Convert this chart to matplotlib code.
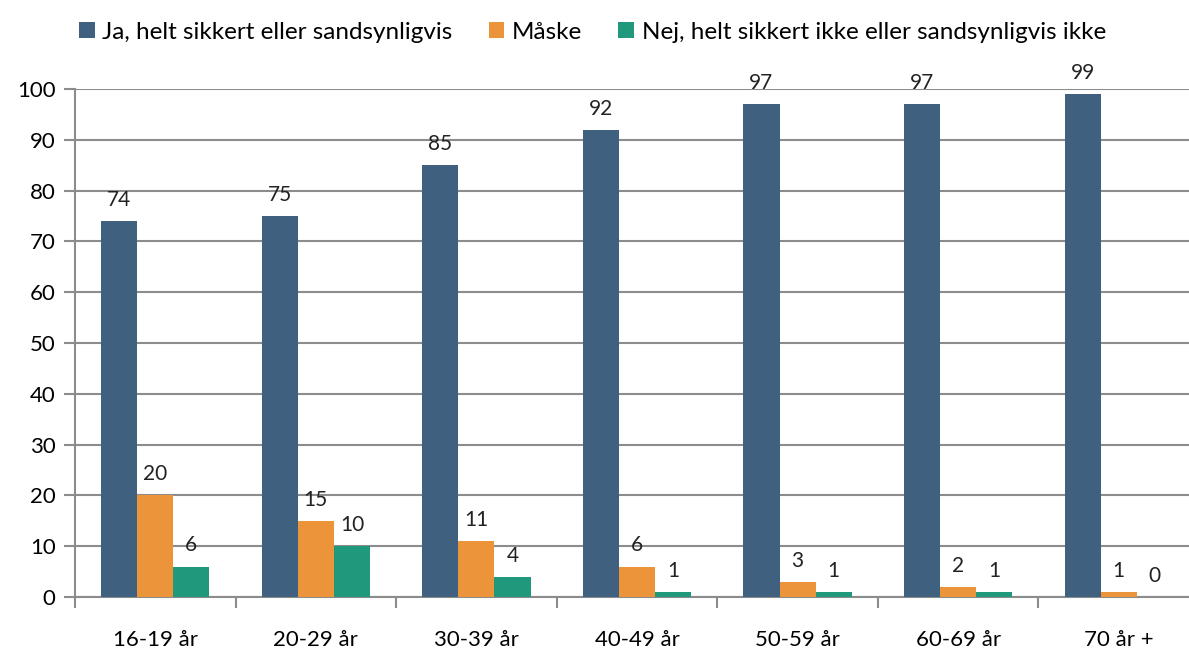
import numpy as np
import matplotlib.pyplot as plt
from matplotlib.ticker import FixedLocator

plt.rcParams['font.family'] = ['Lato', 'DejaVu Sans']

# Aldersgrupper og svarandele (%)
groups = ["16-19 år", "20-29 år", "30-39 år", "40-49 år", "50-59 år", "60-69 år", "70 år +"]
ja = [74, 75, 85, 92, 97, 97, 99]
maaske = [20, 15, 11, 6, 3, 2, 1]
nej = [6, 10, 4, 1, 1, 1, 0]

series = [
    ("Ja, helt sikkert eller sandsynligvis", ja, "#3F617F"),
    ("Måske", maaske, "#EB943A"),
    ("Nej, helt sikkert ikke eller sandsynligvis ikke", nej, "#1F987B"),
]

fig = plt.figure(figsize=(11.89, 6.49), dpi=100)
ax = fig.add_axes([75 / 1189, 52 / 649, 1124 / 1189, 508 / 649])

x = np.arange(len(groups))
w = 0.225
gray = "#8C8C8C"

for i, (name, vals, col) in enumerate(series):
    pos = x + (i - 1) * w
    bars = ax.bar(pos, vals, width=w, color=col, label=name, zorder=3)
    for b, v in zip(bars, vals):
        ax.annotate(str(v), (b.get_x() + b.get_width() / 2, b.get_height()),
                    xytext=(0, 8), textcoords="offset points",
                    ha="center", va="bottom", fontsize=15, color="#222222")

ax.set_xlim(-0.5, len(groups) - 0.5)
ax.set_ylim(0, 100)
ax.set_yticks(range(0, 101, 10))
ax.yaxis.grid(True, color=gray, linewidth=1.5, zorder=0)
ax.set_xticks(x)
ax.set_xticklabels(groups, fontsize=16)
ax.xaxis.set_minor_locator(FixedLocator(np.arange(-0.5, len(groups), 1)))
ax.tick_params(axis="x", which="major", length=0, pad=24)
ax.tick_params(axis="x", which="minor", length=8, width=1.5, color=gray)
ax.tick_params(axis="y", length=8, width=1.5, color=gray, labelsize=16, pad=6)

for s in ["top", "right"]:
    ax.spines[s].set_visible(False)
for s in ["left", "bottom"]:
    ax.spines[s].set_color(gray)
    ax.spines[s].set_linewidth(1.5)

fig.legend(loc="upper left", bbox_to_anchor=(57 / 1189, 1.0), ncol=3, frameon=False,
           fontsize=17.5, handlelength=0.65, handleheight=0.65, handletextpad=0.3,
           columnspacing=1.5)

fig.savefig("out.png", dpi=100)
